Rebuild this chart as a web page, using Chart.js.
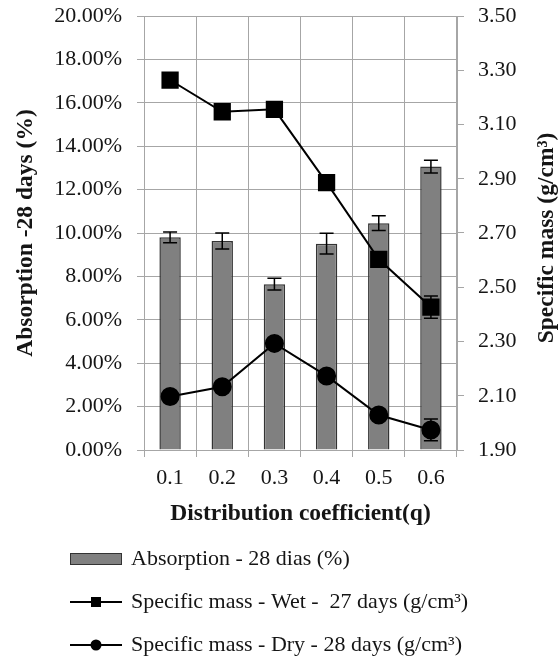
<!DOCTYPE html>
<html><head><meta charset="utf-8">
<script src="https://cdn.jsdelivr.net/npm/chart.js@4"></script>
<style>html,body{margin:0;padding:0;background:#fff;}canvas{display:block;}</style>
</head><body>
<canvas id="c" width="558" height="659"></canvas>
<script>
const categories = ['0.1', '0.2', '0.3', '0.4', '0.5', '0.6'];
const absorption = [9.80, 9.63, 7.64, 9.51, 10.45, 13.06];
const absorptionErr = [0.25, 0.37, 0.27, 0.48, 0.34, 0.29];
const wetMass = [3.264, 3.147, 3.156, 2.886, 2.603, 2.427];
const wetMassErr = [0, 0, 0, 0, 0, 0.041];
const dryMass = [2.097, 2.133, 2.293, 2.173, 2.029, 1.974];
const dryMassErr = [0, 0, 0, 0, 0, 0.04];
const leftTicks = [0, 2, 4, 6, 8, 10, 12, 14, 16, 18, 20];
const rightTicks = [1.90, 2.10, 2.30, 2.50, 2.70, 2.90, 3.10, 3.30, 3.50];
const seriesLabels = ['Absorption - 28 dias (%)', 'Specific mass - Wet -  27 days (g/cm\u00B3)', 'Specific mass - Dry - 28 days (g/cm\u00B3)'];
const xTitle = 'Distribution coefficient(q)';
const leftTitle = 'Absorption -28 days (%)';
const rightTitle = 'Specific mass (g/cm\u00B3)';

const SERIF = '"Liberation Serif", "Times New Roman", serif';
const GRID = '#a6a6a6';
const TXT = '#151515';

function makeIcon(kind) {
  const c = document.createElement('canvas');
  c.width = 52; c.height = 16;
  const g = c.getContext('2d');
  if (kind === 'bar') {
    g.fillStyle = '#808080'; g.fillRect(0.5, 2.5, 51, 11);
    g.strokeStyle = '#333'; g.lineWidth = 1; g.strokeRect(0.5, 2.5, 51, 11);
  } else {
    g.strokeStyle = '#000'; g.lineWidth = 2;
    g.beginPath(); g.moveTo(0, 8); g.lineTo(52, 8); g.stroke();
    g.fillStyle = '#000';
    if (kind === 'rect') { g.fillRect(21, 3, 10, 10); }
    else { g.beginPath(); g.arc(26, 8, 5.5, 0, Math.PI * 2); g.fill(); }
  }
  return c;
}
const icons = [makeIcon('bar'), makeIcon('rect'), makeIcon('circle')];

const errorBars = {
  id: 'errorBars',
  afterDatasetsDraw(chart) {
    const ctx = chart.ctx;
    chart.data.datasets.forEach((ds, i) => {
      if (!ds.errors) return;
      const meta = chart.getDatasetMeta(i);
      const ys = chart.scales[meta.yAxisID];
      ctx.save();
      ctx.strokeStyle = '#000';
      ctx.lineWidth = 1.5;
      meta.data.forEach((el, j) => {
        const e = ds.errors[j];
        if (!e) return;
        const v = ds.data[j];
        const x = el.x;
        const y1 = ys.getPixelForValue(v + e), y2 = ys.getPixelForValue(v - e);
        const hw = 7;
        ctx.beginPath();
        ctx.moveTo(x, y1); ctx.lineTo(x, y2);
        ctx.moveTo(x - hw, y1); ctx.lineTo(x + hw, y1);
        ctx.moveTo(x - hw, y2); ctx.lineTo(x + hw, y2);
        ctx.stroke();
      });
      ctx.restore();
    });
  }
};

const rightTitlePlugin = {
  id: 'rightTitlePlugin',
  afterDraw(chart) {
    const ctx = chart.ctx;
    const s = chart.scales.y2;
    ctx.save();
    ctx.font = 'bold 23.5px ' + SERIF;
    ctx.fillStyle = TXT;
    ctx.textAlign = 'center';
    ctx.textBaseline = 'middle';
    ctx.translate(s.right - 11, (s.top + s.bottom) / 2 + 5);
    ctx.rotate(-Math.PI / 2);
    ctx.fillText(rightTitle, 0, 0);
    ctx.restore();
  }
};

const legendShift = {
  id: 'legendShift',
  afterLayout(chart) {
    const l = chart.legend;
    l.left = 51;
    l.top += 7;
  }
};

new Chart(document.getElementById('c'), {
  type: 'bar',
  data: {
    labels: categories,
    datasets: [
      {
        type: 'bar', label: seriesLabels[0], data: absorption, errors: absorptionErr,
        yAxisID: 'y', backgroundColor: '#808080', borderColor: '#333', borderWidth: 1.5,
        barPercentage: 0.41, categoryPercentage: 1, order: 3
      },
      {
        type: 'line', label: seriesLabels[1], data: wetMass, errors: wetMassErr,
        yAxisID: 'y2', borderColor: '#000', borderWidth: 2, backgroundColor: '#000',
        pointStyle: 'rect', pointRadius: 10.8, pointBackgroundColor: '#000', pointBorderColor: '#000',
        tension: 0, order: 1
      },
      {
        type: 'line', label: seriesLabels[2], data: dryMass, errors: dryMassErr,
        yAxisID: 'y2', borderColor: '#000', borderWidth: 2, backgroundColor: '#000',
        pointStyle: 'circle', pointRadius: 8.5, pointBackgroundColor: '#000', pointBorderColor: '#000',
        tension: 0, order: 2
      }
    ]
  },
  options: {
    responsive: false,
    animation: false,
    devicePixelRatio: 1,
    layout: { padding: { top: 16, left: 0, right: 0, bottom: 0 } },
    plugins: {
      tooltip: { enabled: false },
      legend: {
        position: 'bottom',
        align: 'start',
        labels: {
          usePointStyle: true,
          pointStyleWidth: 48,
          padding: 21,
          color: TXT,
          font: { family: SERIF, size: 22 },
          sort: (a, b) => a.datasetIndex - b.datasetIndex,
          generateLabels(chart) {
            const items = Chart.defaults.plugins.legend.labels.generateLabels(chart);
            items.forEach(it => { it.pointStyle = icons[it.datasetIndex]; });
            return items;
          }
        }
      }
    },
    scales: {
      x: {
        type: 'category',
        offset: true,
        grid: { offset: true, color: GRID, tickLength: 7, lineWidth: 1 },
        border: { color: GRID },
        ticks: { color: TXT, font: { family: SERIF, size: 22 }, padding: 8.5, maxRotation: 0 },
        title: { display: true, text: xTitle, color: TXT, font: { family: SERIF, size: 23.5, weight: 'bold' }, padding: { top: 0, bottom: -7.6 } },
        afterFit: s => { s.height = 70; s.paddingLeft = 0; s.paddingRight = 0; }
      },
      y: {
        type: 'linear', position: 'left', min: 0, max: 20,
        afterBuildTicks: s => { s.ticks = leftTicks.map(v => ({ value: v })); },
        grid: { color: GRID, tickLength: 7, lineWidth: 1 },
        border: { color: GRID },
        ticks: { color: TXT, font: { family: SERIF, size: 22 }, padding: 15, callback: v => Number(v).toFixed(2) + '%' },
        title: { display: true, text: leftTitle, color: TXT, font: { family: SERIF, size: 23.5, weight: 'bold' }, padding: { top: 11.7, bottom: 0 } },
        afterFit: s => { s.width = 144; s.paddingTop = 0; s.paddingBottom = 0; }
      },
      y2: {
        type: 'linear', position: 'right', min: 1.9, max: 3.5,
        afterBuildTicks: s => { s.ticks = rightTicks.map(v => ({ value: v })); },
        grid: { drawOnChartArea: false, color: GRID, tickLength: 7, lineWidth: 1 },
        border: { color: GRID },
        ticks: { color: TXT, font: { family: SERIF, size: 22 }, padding: 14, callback: v => Number(v).toFixed(2) },
        afterFit: s => { s.width = 101; s.paddingTop = 0; s.paddingBottom = 0; }
      }
    }
  },
  plugins: [errorBars, rightTitlePlugin, legendShift]
});
</script>
</body></html>
